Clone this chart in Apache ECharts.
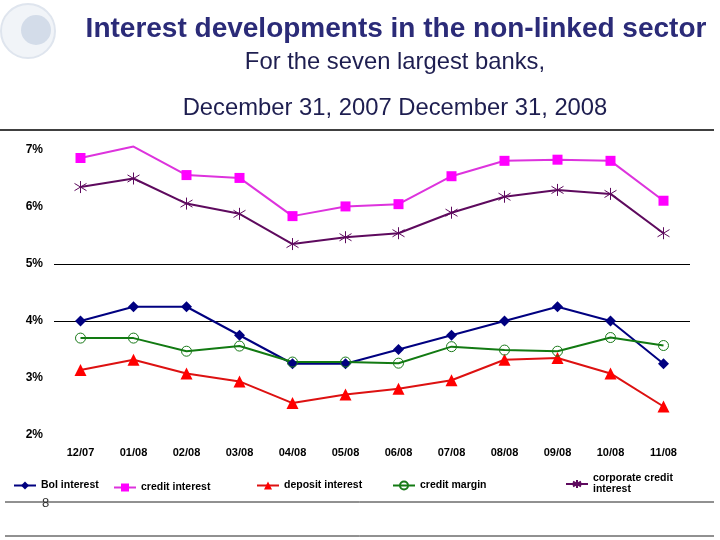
<!DOCTYPE html>
<html>
<head>
<meta charset="utf-8">
<script src="https://cdn.jsdelivr.net/npm/echarts@6/dist/echarts.min.js"></script>
<style>html,body{margin:0;padding:0;background:#fff}#c{width:720px;height:540px}</style>
</head>
<body>
<div id="c"></div>
<script>
const categories = ['12/07','01/08','02/08','03/08','04/08','05/08','06/08','07/08','08/08','09/08','10/08','11/08'];
const boiInterest = [4.00,4.25,4.25,3.75,3.25,3.25,3.50,3.75,4.00,4.25,4.00,3.25];
const creditInterest = [6.86,7.06,6.56,6.51,5.84,6.01,6.05,6.54,6.81,6.83,6.81,6.11];
const depositInterest = [3.14,3.32,3.08,2.94,2.56,2.71,2.81,2.96,3.32,3.35,3.08,2.50];
const creditMargin = [3.70,3.70,3.47,3.56,3.28,3.28,3.26,3.55,3.49,3.47,3.71,3.57];
const corporateCredit = [6.35,6.50,6.06,5.88,5.35,5.47,5.54,5.90,6.18,6.30,6.23,5.54];
const yTicks = [2,3,4,5,6,7];

const chart = echarts.init(document.getElementById('c'), null, {renderer:'canvas'});
const FONT = 'Liberation Sans, Arial, sans-serif';
const starPath = 'path://M5,0L5,10M0,2L10,8M0,8L10,2';

function legendFor(name, left, top) {
  return {
    data:[name], left:left, top:top, orient:'horizontal',
    itemWidth:22, itemHeight:10, itemGap:0, padding:0,
    textStyle:{fontFamily:FONT, fontWeight:'bold', fontSize:10.5, color:'#000', lineHeight:11},
    formatter: n => n === 'corporate credit interest' ? 'corporate credit\ninterest' : n
  };
}

const option = {
  animation:false,
  backgroundColor:'#fff',
  grid:{left:54, right:30, top:150, bottom:105, containLabel:false},
  xAxis:{
    type:'category', data:categories, boundaryGap:true,
    axisLine:{show:false}, axisTick:{show:false},
    axisLabel:{margin:12, fontFamily:FONT, fontWeight:'bold', fontSize:11, color:'#000'}
  },
  yAxis:{
    type:'value', min:yTicks[0], max:yTicks[yTicks.length-1], interval:1,
    axisLine:{show:false}, axisTick:{show:false},
    axisLabel:{margin:11, formatter:v => v + '%', fontFamily:FONT, fontWeight:'bold', fontSize:12, color:'#000'},
    splitLine:{show:true, showMinLine:true, showMaxLine:true,
      lineStyle:{width:1, color:['rgba(0,0,0,0)','rgba(0,0,0,0)','#000','#000','rgba(0,0,0,0)','rgba(0,0,0,0)']}}
  },
  legend:[
    legendFor('BoI interest', 13, 480),
    legendFor('credit interest', 113, 482),
    legendFor('deposit interest', 256, 480),
    legendFor('credit margin', 392, 480),
    legendFor('corporate credit interest', 565, 473)
  ],
  title:[
    {text:'Interest developments in the non-linked sector', left:391, top:10, textAlign:'center',
      textStyle:{fontFamily:FONT, fontWeight:'bold', fontSize:28, color:'#2b2b78'}},
    {text:'For the seven largest banks,', left:390, top:45, textAlign:'center',
      textStyle:{fontFamily:FONT, fontWeight:'normal', fontSize:23.8, color:'#1e1e50'}},
    {text:'December 31, 2007 December 31, 2008', left:390, top:91, textAlign:'center',
      textStyle:{fontFamily:FONT, fontWeight:'normal', fontSize:23.8, color:'#1e1e50'}}
  ],
  graphic:[
    {type:'circle', shape:{cx:28, cy:31, r:27}, style:{fill:'#f1f4f8', stroke:'#dfe5ee', lineWidth:2}, silent:true, z:-1},
    {type:'circle', shape:{cx:36, cy:30, r:15}, style:{fill:'#d3dce9'}, silent:true, z:-1},
    {type:'line', shape:{x1:0, y1:130, x2:714, y2:130}, style:{stroke:'#000', lineWidth:1.5}, silent:true},
    {type:'line', shape:{x1:5, y1:502, x2:714, y2:502}, style:{stroke:'#222', lineWidth:1}, silent:true},
    {type:'line', shape:{x1:5, y1:536, x2:714, y2:536}, style:{stroke:'#222', lineWidth:1}, silent:true},
    {type:'text', left:42, top:497, style:{text:'8', fontFamily:FONT, fontSize:13, fill:'#333'}}
  ],
  series:[
    {name:'BoI interest', type:'line', data:boiInterest, symbol:'diamond', symbolSize:11, clip:false,
      lineStyle:{color:'#000080', width:2}, itemStyle:{color:'#000080'}},
    {name:'credit interest', type:'line', clip:false,
      data:creditInterest.map((v,i) => i === 1 ? {value:v, symbol:'none'} : v),
      symbol:'rect', symbolSize:10,
      lineStyle:{color:'#dd33dd', width:2}, itemStyle:{color:'#ff00ff'}},
    {name:'deposit interest', type:'line', data:depositInterest, symbol:'triangle', symbolSize:12, clip:false,
      lineStyle:{color:'#dd1111', width:2}, itemStyle:{color:'#ff0000'}},
    {name:'credit margin', type:'line', data:creditMargin, symbol:'circle', symbolSize:10, clip:false,
      lineStyle:{color:'#127a12', width:2}, itemStyle:{color:'rgba(255,255,255,0)', borderColor:'#1a7a1a', borderWidth:1}},
    {name:'corporate credit interest', type:'line', data:corporateCredit, symbol:starPath, symbolSize:12, clip:false,
      lineStyle:{color:'#5e0a5e', width:2}, itemStyle:{color:'rgba(0,0,0,0)', borderColor:'#5e0a5e', borderWidth:1}}
  ]
};
chart.setOption(option);
</script>
</body>
</html>
